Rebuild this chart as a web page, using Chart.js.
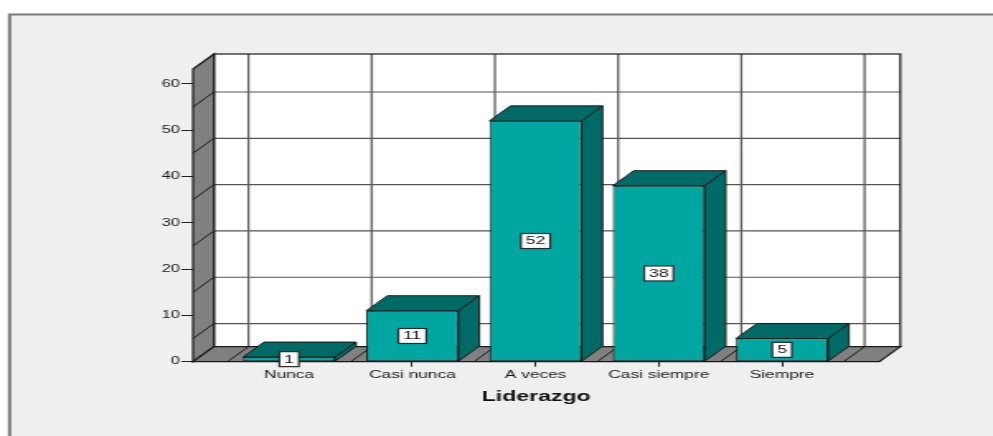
<!DOCTYPE html>
<html><head><meta charset="utf-8">
<script src="https://cdn.jsdelivr.net/npm/chart.js@4.4.1/dist/chart.umd.min.js"></script>
<style>
html,body{margin:0;padding:0;background:#fff;overflow:hidden;}
#wrap{width:602px;height:436px;transform:scaleX(1.6495);transform-origin:0 0;}
canvas{display:block;}
</style></head><body>
<div id="wrap"><canvas id="c" width="602" height="436"></canvas></div>
<script>
const CATEGORIES = ['Nunca', 'Casi nunca', 'A veces', 'Casi siempre', 'Siempre'];
const COUNTS = [1, 11, 52, 38, 5];
const Y_TICKS = [0, 10, 20, 30, 40, 50, 60];
const WALL_GRID = [5, 15, 25, 35, 45, 55];
const AXIS_TITLE = 'Liderazgo';

const FONT = '"Liberation Sans", Arial, sans-serif';
Chart.defaults.font.family = FONT;
const DX = 12.7, DY = 15;
const FRONT = '#00a6a0', DARK = '#006b66', EDGE = '#1a1a1a', WALL = '#808080';

function line(ctx, x1, y1, x2, y2) { ctx.beginPath(); ctx.moveTo(x1, y1); ctx.lineTo(x2, y2); ctx.stroke(); }
function poly(ctx, pts, fill, stroke, lw) {
  ctx.beginPath(); ctx.moveTo(pts[0][0], pts[0][1]);
  for (let i = 1; i < pts.length; i++) ctx.lineTo(pts[i][0], pts[i][1]);
  ctx.closePath();
  ctx.fillStyle = fill; ctx.fill();
  ctx.strokeStyle = stroke; ctx.lineWidth = lw || 1; ctx.stroke();
}

const depthPlugin = {
  id: 'depth3d',
  beforeDraw(chart) {
    const ctx = chart.ctx;
    ctx.save();
    ctx.fillStyle = '#fff'; ctx.fillRect(0, 0, chart.width, chart.height);
    ctx.fillStyle = '#efefef'; ctx.fillRect(5.8, 14.5, chart.width, chart.height);
    ctx.strokeStyle = '#7a7a7a'; ctx.lineWidth = 2;
    ctx.beginPath(); ctx.moveTo(5.8, chart.height + 2); ctx.lineTo(5.8, 14.5); ctx.lineTo(chart.width + 2, 14.5); ctx.stroke();
    ctx.restore();
  },
  beforeDatasetsDraw(chart) {
    const { ctx, chartArea: a, scales: { x, y } } = chart;
    const L = a.left, R = a.right, T = a.top, B = a.bottom;
    ctx.save();
    ctx.fillStyle = '#fff';
    ctx.fillRect(L + DX, T - DY, R - L, B - T);
    ctx.strokeStyle = '#555'; ctx.lineWidth = 1.2;
    WALL_GRID.forEach(v => { const py = y.getPixelForValue(v) - DY; line(ctx, L + DX, py, R + DX, py); });
    ctx.strokeStyle = '#5e5e5e'; ctx.lineWidth = 1.3;
    for (let i = 0; i <= CATEGORIES.length; i++) {
      const px = x.getPixelForValue(i - 0.5) + DX; line(ctx, px, T - DY, px, B - DY);
    }
    ctx.strokeStyle = EDGE; ctx.lineWidth = 1.2;
    ctx.strokeRect(L + DX, T - DY, R - L, B - T);
    poly(ctx, [[L, B], [L, T], [L + DX, T - DY], [L + DX, B - DY]], WALL, EDGE, 1.2);
    ctx.strokeStyle = EDGE; ctx.lineWidth = 1;
    WALL_GRID.forEach(v => { const py = y.getPixelForValue(v); line(ctx, L, py, L + DX, py - DY); });
    poly(ctx, [[L, B], [L + DX, B - DY], [R + DX, B - DY], [R, B]], WALL, EDGE, 1.2);
    ctx.strokeStyle = EDGE; ctx.lineWidth = 1;
    for (let i = 0; i <= CATEGORIES.length; i++) {
      const px = x.getPixelForValue(i - 0.5); line(ctx, px, B, px + DX, B - DY);
    }
    ctx.restore();
  },
  afterDatasetsDraw(chart) {
    const ctx = chart.ctx;
    const meta = chart.getDatasetMeta(0);
    ctx.save();
    ctx.lineJoin = 'miter';
    meta.data.forEach((bar) => {
      const p = bar.getProps(['x', 'y', 'base', 'width'], true);
      const xl = p.x - p.width / 2, xr = p.x + p.width / 2, yt = p.y, yb = p.base;
      poly(ctx, [[xl, yt], [xl + DX, yt - DY], [xr + DX, yt - DY], [xr, yt]], DARK, EDGE, 1);
      poly(ctx, [[xr, yt], [xr + DX, yt - DY], [xr + DX, yb - DY], [xr, yb]], DARK, EDGE, 1);
    });
    ctx.font = '10.5px ' + FONT;
    ctx.textAlign = 'center'; ctx.textBaseline = 'middle';
    meta.data.forEach((bar, i) => {
      const p = bar.getProps(['x', 'y', 'base'], true);
      const txt = String(COUNTS[i]);
      const cy = (p.y + p.base) / 2;
      const w = ctx.measureText(txt).width + 6, h = 15;
      ctx.fillStyle = '#fff'; ctx.fillRect(p.x - w / 2, cy - h / 2, w, h);
      ctx.strokeStyle = '#2a2a2a'; ctx.lineWidth = 1.2; ctx.strokeRect(p.x - w / 2, cy - h / 2, w, h);
      ctx.fillStyle = '#111'; ctx.fillText(txt, p.x, cy + 0.5);
    });
    ctx.restore();
  }
};

new Chart(document.getElementById('c'), {
  type: 'bar',
  data: {
    datasets: [{
      data: COUNTS.map((v, i) => ({ x: i, y: v })),
      backgroundColor: FRONT, borderColor: EDGE, borderWidth: 1, borderSkipped: false,
      barPercentage: 0.747, categoryPercentage: 1
    }]
  },
  options: {
    responsive: false, animation: false, devicePixelRatio: 1,
    layout: { padding: { top: 69, right: 68.9, left: 0, bottom: 0 } },
    plugins: { legend: { display: false }, tooltip: { enabled: false } },
    scales: {
      x: {
        type: 'linear', min: -0.78, max: 4.79, offset: false,
        afterBuildTicks: s => { s.ticks = CATEGORIES.map((_, i) => ({ value: i })); },
        afterFit: s => { s.height = 74.3; },
        grid: { offset: false, drawOnChartArea: false, drawTicks: true, tickLength: 5, color: '#222', lineWidth: 1 },
        border: { display: false },
        ticks: { padding: 2.5, color: '#1a1a1a', autoSkip: false, maxRotation: 0, font: { size: 10.5 },
          callback: v => (CATEGORIES[v] !== undefined ? CATEGORIES[v] : '') },
        title: { display: true, text: AXIS_TITLE, color: '#111', font: { size: 14, weight: 'bold' }, padding: { top: 0, bottom: 30.6 } }
      },
      y: {
        min: 0, max: 63.2,
        afterBuildTicks: s => { s.ticks = Y_TICKS.map(v => ({ value: v })); },
        afterFit: s => { s.width = 117; },
        grid: { drawOnChartArea: false, drawTicks: true, tickLength: 7, color: '#222', lineWidth: 1 },
        border: { display: false },
        ticks: { padding: 1, color: '#1a1a1a', font: { size: 10 } }
      }
    }
  },
  plugins: [depthPlugin]
});
</script>
</body></html>
